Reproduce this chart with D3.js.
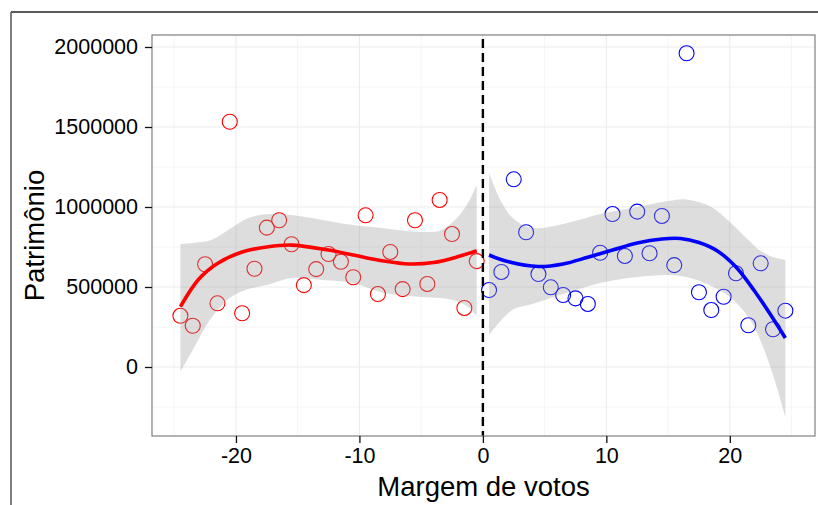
<!DOCTYPE html>
<html>
<head>
<meta charset="utf-8">
<script src="https://cdn.jsdelivr.net/npm/d3@7"></script>
<style>
  body { margin: 0; background: #fff; }
  svg text { font-family: "Liberation Sans", Arial, sans-serif; }
</style>
</head>
<body>
<svg id="chart" width="818" height="505"></svg>
<script>
// margem de votos x patrimonio, regression discontinuity at 0

const redX = [-24.5, -23.5, -22.5, -21.5, -20.5, -19.5, -18.5, -17.5, -16.5, -15.5, -14.5, -13.5,
  -12.5, -11.5, -10.5, -9.5, -8.5, -7.5, -6.5, -5.5, -4.5, -3.5, -2.5, -1.5, -0.5];
const redY = [320000, 258000, 642000, 398000, 1533000, 336000, 614000, 871000, 917000, 767000, 512000, 612000,
  706000, 658000, 561000, 948000, 456000, 719000, 487000, 917000, 519000, 1044000, 831000, 369000, 662000];

const blueX = [0.5, 1.5, 2.5, 3.5, 4.5, 5.5, 6.5, 7.5, 8.5, 9.5, 10.5, 11.5,
  12.5, 13.5, 14.5, 15.5, 16.5, 17.5, 18.5, 19.5, 20.5, 21.5, 22.5, 23.5, 24.5];
const blueY = [481000, 594000, 1173000, 842000, 581000, 498000, 450000, 429000, 394000, 714000, 956000, 694000,
  971000, 711000, 944000, 637000, 1961000, 467000, 356000, 439000, 586000, 261000, 648000, 236000, 352000];

// smooth lines + confidence bands
const redFitX = [-24.5, -23, -21.5, -19.5, -17.5, -15.5, -12.5, -10.5, -8, -6, -4, -2, -0.5];
const redFit = [377000, 550000, 647000, 719000, 750000, 762000, 731000, 700000, 662000, 644000, 653000, 690000, 727000];
const redBandX = [-24.5, -23.5, -22, -20.5, -19, -17.5, -15.5, -13, -10.5, -8, -5.5, -3.5, -2.4, -1.3, -0.5];
const redUpper = [769000, 775000, 794000, 862000, 931000, 955000, 950000, 919000, 887000, 867000, 846000, 852000, 908000, 1012000, 1137000];
const redLower = [-31000, 106000, 306000, 431000, 487000, 512000, 556000, 544000, 525000, 462000, 441000, 431000, 419000, 381000, 319000];

const blueFitX = [0.5, 2, 4.5, 6.5, 8.5, 10.5, 12.5, 14.5, 16, 17.5, 19, 20.5, 22, 23.5, 24.5];
const blueFit = [700000, 659000, 628000, 644000, 686000, 731000, 775000, 800000, 803000, 778000, 725000, 625000, 475000, 303000, 181000];
const blueBandX = [0.5, 1.5, 2.5, 4, 6.5, 9.5, 12.5, 15, 16.5, 18.5, 20, 21.5, 22.5, 23.5, 24.5];
const blueUpper = [1212000, 1031000, 925000, 869000, 894000, 956000, 1000000, 1037000, 1047000, 1000000, 906000, 794000, 725000, 687000, 669000];
const blueLower = [200000, 294000, 362000, 394000, 456000, 525000, 562000, 575000, 562000, 506000, 437000, 312000, 162000, -50000, -312000];

const xTicks = [-20, -10, 0, 10, 20];
const xMinor = [-25, -15, -5, 5, 15, 25];
const yTicks = [0, 500000, 1000000, 1500000, 2000000];
const yMinor = [-250000, 250000, 750000, 1250000, 1750000];

const svg = d3.select('#chart');

const panel = { left: 152, top: 35, right: 815, bottom: 436 };

const x = d3.scaleLinear().domain([-26.8, 26.9]).range([panel.left, panel.right]);
const y = d3.scaleLinear().domain([-431250, 2075000]).range([panel.bottom, panel.top]);

// outer frame (screenshot border)
svg.append('line').attr('x1', 11).attr('x2', 818).attr('y1', 12).attr('y2', 12)
  .attr('stroke', '#222').attr('stroke-width', 1.5);
svg.append('line').attr('x1', 11).attr('x2', 11).attr('y1', 12).attr('y2', 505)
  .attr('stroke', '#555').attr('stroke-width', 1.5);

const g = svg.append('g');

// grid
g.selectAll('.xminor').data(xMinor).enter().append('line')
  .attr('x1', (d) => x(d)).attr('x2', (d) => x(d))
  .attr('y1', panel.top).attr('y2', panel.bottom)
  .attr('stroke', '#f5f5f5').attr('stroke-width', 1);
g.selectAll('.yminor').data(yMinor).enter().append('line')
  .attr('x1', panel.left).attr('x2', panel.right)
  .attr('y1', (d) => y(d)).attr('y2', (d) => y(d))
  .attr('stroke', '#f5f5f5').attr('stroke-width', 1);
g.selectAll('.xmajor').data(xTicks).enter().append('line')
  .attr('x1', (d) => x(d)).attr('x2', (d) => x(d))
  .attr('y1', panel.top).attr('y2', panel.bottom)
  .attr('stroke', '#ebebeb').attr('stroke-width', 1);
g.selectAll('.ymajor').data(yTicks).enter().append('line')
  .attr('x1', panel.left).attr('x2', panel.right)
  .attr('y1', (d) => y(d)).attr('y2', (d) => y(d))
  .attr('stroke', '#ebebeb').attr('stroke-width', 1);

// points
function drawPoints(xs, ys, color) {
  g.append('g').selectAll('circle')
    .data(xs.map((d, i) => [d, ys[i]]))
    .enter()
    .append('circle')
    .attr('cx', (d) => x(d[0]))
    .attr('cy', (d) => y(d[1]))
    .attr('r', 7.5)
    .attr('fill', 'none')
    .attr('stroke', color)
    .attr('stroke-width', 1.1);
}
drawPoints(redX, redY, '#ff0000');
drawPoints(blueX, blueY, '#0000ff');

// confidence bands
function drawBand(xs, lo, hi) {
  const area = d3.area()
    .x((d) => x(d[0]))
    .y0((d) => y(d[1]))
    .y1((d) => y(d[2]))
    .curve(d3.curveCatmullRom);
  g.append('path')
    .datum(xs.map((d, i) => [d, lo[i], hi[i]]))
    .attr('d', area)
    .attr('fill', '#999999')
    .attr('fill-opacity', 0.33);
}
drawBand(redBandX, redLower, redUpper);
drawBand(blueBandX, blueLower, blueUpper);

// fitted lines
function drawFit(xs, ys, color) {
  const line = d3.line()
    .x((d) => x(d[0]))
    .y((d) => y(d[1]))
    .curve(d3.curveCatmullRom);
  g.append('path')
    .datum(xs.map((d, i) => [d, ys[i]]))
    .attr('d', line)
    .attr('fill', 'none')
    .attr('stroke', color)
    .attr('stroke-width', 3.6);
}
drawFit(redFitX, redFit, '#ff0000');
drawFit(blueFitX, blueFit, '#0000ff');

// cutoff
g.append('line')
  .attr('x1', x(0)).attr('x2', x(0))
  .attr('y1', panel.top + 4).attr('y2', panel.bottom)
  .attr('stroke', '#000').attr('stroke-width', 2.4)
  .attr('stroke-dasharray', '9,5');

// panel border
g.append('rect')
  .attr('x', panel.left).attr('y', panel.top)
  .attr('width', panel.right - panel.left).attr('height', panel.bottom - panel.top)
  .attr('fill', 'none').attr('stroke', '#7f7f7f').attr('stroke-width', 1.2);

// axes
const xAxis = svg.append('g')
  .attr('transform', `translate(0, ${panel.bottom})`)
  .call(d3.axisBottom(x).tickValues(xTicks).tickSize(7).tickPadding(5).tickFormat(d3.format('d')));
const yAxis = svg.append('g')
  .attr('transform', `translate(${panel.left}, 0)`)
  .call(d3.axisLeft(y).tickValues(yTicks).tickSize(7).tickPadding(7).tickFormat(d3.format('d')));

[xAxis, yAxis].forEach((a) => {
  a.select('.domain').remove();
  a.selectAll('.tick line').attr('stroke', '#111').attr('stroke-width', 1.3);
  a.selectAll('.tick text').attr('font-size', 21.5).attr('fill', '#000')
    .attr('font-family', '"Liberation Sans", Arial, sans-serif');
});
// d3 uses unicode minus, the reference has a plain hyphen
xAxis.selectAll('.tick text').text((d) => String(d));

// titles
svg.append('text')
  .attr('x', (panel.left + panel.right) / 2)
  .attr('y', 496)
  .attr('text-anchor', 'middle')
  .attr('font-size', 27.5)
  .text('Margem de votos');

svg.append('text')
  .attr('transform', `translate(44, ${(panel.top + panel.bottom) / 2}) rotate(-90)`)
  .attr('text-anchor', 'middle')
  .attr('font-size', 27.5)
  .text('Patrimônio');
</script>
</body>
</html>
